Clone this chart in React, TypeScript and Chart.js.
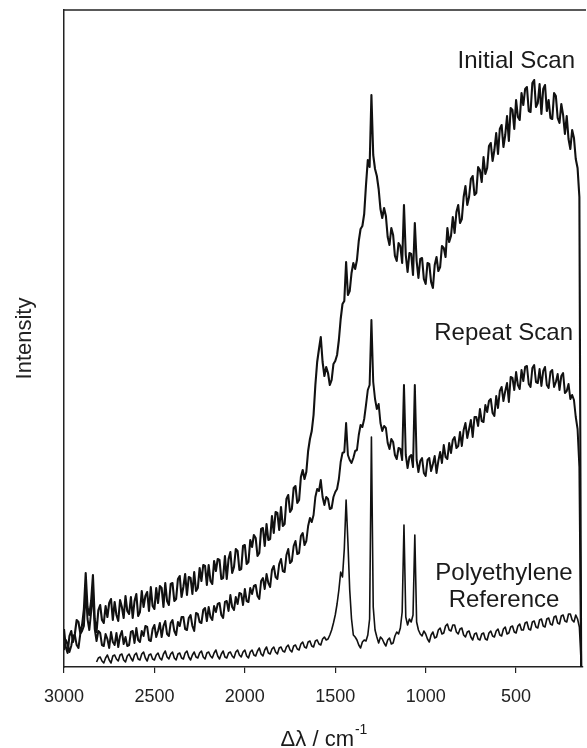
import React, { useEffect, useRef } from 'react';
import { Chart, registerables } from 'chart.js';

Chart.register(...registerables);

const FONT = '"Liberation Sans", Arial, Helvetica, sans-serif';

// Raman shift grid (cm^-1), 10 cm^-1 sampling
const wavenumbers = [
  3000, 2990, 2980, 2970, 2960, 2950, 2940, 2930, 2920, 2910, 2900, 2890, 2880, 2870, 2860, 2850, 2840, 2830, 2820, 2810,
  2800, 2790, 2780, 2770, 2760, 2750, 2740, 2730, 2720, 2710, 2700, 2690, 2680, 2670, 2660, 2650, 2640, 2630, 2620, 2610,
  2600, 2590, 2580, 2570, 2560, 2550, 2540, 2530, 2520, 2510, 2500, 2490, 2480, 2470, 2460, 2450, 2440, 2430, 2420, 2410,
  2400, 2390, 2380, 2370, 2360, 2350, 2340, 2330, 2320, 2310, 2300, 2290, 2280, 2270, 2260, 2250, 2240, 2230, 2220, 2210,
  2200, 2190, 2180, 2170, 2160, 2150, 2140, 2130, 2120, 2110, 2100, 2090, 2080, 2070, 2060, 2050, 2040, 2030, 2020, 2010,
  2000, 1990, 1980, 1970, 1960, 1950, 1940, 1930, 1920, 1910, 1900, 1890, 1880, 1870, 1860, 1850, 1840, 1830, 1820, 1810,
  1800, 1790, 1780, 1770, 1760, 1750, 1740, 1730, 1720, 1710, 1700, 1690, 1680, 1670, 1660, 1650, 1640, 1630, 1620, 1610,
  1600, 1590, 1580, 1570, 1560, 1550, 1540, 1530, 1520, 1510, 1500, 1490, 1480, 1470, 1460, 1450, 1440, 1430, 1420, 1410,
  1400, 1390, 1380, 1370, 1360, 1350, 1340, 1330, 1320, 1310, 1300, 1290, 1280, 1270, 1260, 1250, 1240, 1230, 1220, 1210,
  1200, 1190, 1180, 1170, 1160, 1150, 1140, 1130, 1120, 1110, 1100, 1090, 1080, 1070, 1060, 1050, 1040, 1030, 1020, 1010,
  1000, 990, 980, 970, 960, 950, 940, 930, 920, 910, 900, 890, 880, 870, 860, 850, 840, 830, 820, 810,
  800, 790, 780, 770, 760, 750, 740, 730, 720, 710, 700, 690, 680, 670, 660, 650, 640, 630, 620, 610,
  600, 590, 580, 570, 560, 550, 540, 530, 520, 510, 500, 490, 480, 470, 460, 450, 440, 430, 420, 410,
  400, 390, 380, 370, 360, 350, 340, 330, 320, 310, 300, 290, 280, 270, 260, 250, 240, 230, 220, 210,
  200, 190, 180, 170, 160, 150, 140,
];

// Intensities (arbitrary units)
const initialScan = [
  38, 20, 14, 31, 36, 25, 33, 47, 45, 34, 42, 58, 94, 60, 52, 66, 92, 48, 35, 57,
  62, 47, 44, 61, 50, 64, 68, 47, 65, 52, 46, 67, 60, 49, 71, 56, 53, 70, 49, 66,
  73, 51, 55, 76, 60, 71, 75, 56, 80, 61, 58, 79, 64, 81, 79, 60, 84, 66, 62, 83,
  84, 66, 68, 88, 91, 70, 80, 93, 72, 90, 89, 73, 95, 76, 79, 99, 86, 102, 101, 82,
  102, 86, 83, 106, 96, 108, 107, 88, 89, 111, 88, 108, 115, 94, 100, 118, 116, 97, 98, 121,
  122, 103, 105, 127, 120, 132, 129, 111, 114, 138, 139, 121, 143, 127, 128, 151, 134, 155, 154, 137,
  160, 141, 143, 168, 172, 155, 158, 179, 181, 164, 167, 190, 197, 188, 195, 216, 228, 236, 252, 282,
  305, 318, 330, 305, 291, 300, 294, 282, 287, 303, 306, 312, 327, 348, 363, 366, 405, 372, 376, 394,
  404, 398, 407, 426, 438, 441, 453, 482, 507, 500, 572, 512, 498, 491, 478, 458, 449, 459, 451, 430,
  422, 439, 432, 411, 406, 424, 421, 404, 462, 412, 395, 414, 413, 392, 444, 406, 389, 408, 409, 388,
  383, 404, 403, 385, 379, 402, 410, 396, 400, 421, 419, 410, 439, 425, 431, 450, 434, 455, 462, 444,
  448, 470, 481, 462, 470, 488, 491, 472, 474, 500, 497, 485, 510, 493, 499, 521, 524, 506, 517, 534,
  513, 538, 542, 520, 532, 551, 526, 559, 557, 538, 567, 550, 547, 574, 562, 578, 580, 556, 555, 584,
  587, 560, 564, 583, 553, 578, 582, 556, 567, 549, 548, 574, 571, 549, 544, 563, 552, 533, 551, 528,
  518, 537, 529, 508, 499, 470, 0,
];

const repeatScan = [
  17, 27, 23, 15, 21, 31, 32, 22, 19, 33, 36, 41, 77, 48, 37, 55, 75, 38, 26, 36,
  34, 22, 21, 33, 28, 19, 35, 25, 22, 34, 20, 31, 36, 23, 30, 21, 22, 35, 36, 24,
  39, 27, 25, 36, 31, 41, 40, 27, 26, 38, 42, 30, 36, 44, 30, 41, 46, 33, 31, 44,
  47, 36, 32, 45, 41, 50, 50, 38, 37, 49, 52, 41, 36, 54, 53, 45, 44, 57, 59, 46,
  60, 50, 47, 61, 55, 63, 64, 52, 49, 65, 66, 56, 72, 60, 57, 70, 63, 74, 73, 62,
  78, 66, 65, 79, 73, 81, 82, 71, 68, 86, 89, 78, 93, 84, 80, 97, 101, 90, 88, 103,
  108, 96, 95, 112, 118, 104, 106, 121, 126, 113, 114, 131, 134, 122, 126, 141, 149, 145, 152, 170,
  178, 176, 187, 170, 162, 170, 168, 158, 159, 170, 175, 178, 188, 205, 214, 215, 244, 212, 207, 204,
  209, 216, 217, 232, 242, 240, 248, 262, 277, 282, 347, 285, 268, 258, 263, 244, 236, 241, 239, 224,
  218, 228, 225, 212, 208, 219, 218, 207, 282, 212, 199, 210, 212, 200, 282, 207, 195, 206, 209, 194,
  191, 207, 209, 196, 203, 211, 194, 206, 215, 204, 222, 210, 208, 224, 214, 227, 230, 219, 221, 235,
  221, 237, 244, 229, 238, 247, 230, 250, 250, 241, 258, 246, 245, 262, 255, 266, 268, 254, 251, 271,
  259, 276, 280, 266, 276, 284, 265, 290, 289, 277, 295, 282, 278, 297, 286, 300, 301, 283, 280, 299,
  302, 285, 284, 298, 281, 296, 300, 282, 279, 295, 297, 280, 285, 293, 277, 291, 294, 274, 276, 283,
  268, 272, 267, 250, 238, 200, 0,
];

const polyethyleneReference = [
  null, null, null, null, null, null, null, null, null, null, null, null, null, null, null, null, null, null, 5, 9,
  10, 6, 4, 9, 12, 7, 4, 11, 12, 8, 6, 12, 13, 7, 5, 11, 13, 9, 6, 12,
  14, 8, 7, 13, 15, 9, 6, 12, 13, 8, 7, 12, 14, 9, 7, 13, 16, 10, 8, 13,
  15, 9, 7, 13, 14, 9, 8, 14, 16, 10, 7, 12, 15, 10, 9, 14, 16, 10, 8, 14,
  15, 11, 9, 14, 17, 11, 8, 13, 16, 10, 9, 14, 15, 11, 9, 15, 17, 12, 10, 15,
  17, 11, 9, 15, 17, 12, 11, 16, 19, 13, 11, 17, 20, 14, 13, 18, 20, 15, 13, 19,
  20, 16, 15, 20, 22, 17, 15, 21, 22, 18, 17, 23, 25, 20, 19, 25, 26, 21, 20, 26,
  27, 23, 22, 28, 30, 27, 28, 32, 37, 44, 52, 63, 77, 95, 90, 118, 167, 125, 77, 48,
  32, 30, 27, 22, 19, 25, 27, 26, 32, 48, 230, 60, 37, 30, 24, 30, 28, 24, 21, 27,
  29, 23, 24, 31, 35, 33, 39, 55, 142, 50, 42, 48, 45, 52, 132, 45, 37, 33, 31, 36,
  33, 28, 25, 32, 35, 29, 30, 37, 39, 33, 34, 41, 43, 37, 36, 42, 42, 35, 33, 38,
  39, 32, 30, 35, 36, 30, 27, 33, 34, 28, 27, 33, 34, 28, 27, 34, 36, 31, 30, 36,
  38, 32, 31, 38, 40, 33, 34, 40, 41, 35, 34, 41, 43, 37, 37, 44, 45, 38, 37, 45,
  46, 40, 39, 47, 48, 41, 40, 48, 49, 43, 42, 50, 51, 44, 43, 51, 52, 46, 45, 53,
  53, 47, 45, 52, 48, 40, 3,
];

const xTickValues = [3000, 2500, 2000, 1500, 1000, 500];
const seriesLabels = ['Initial Scan', 'Repeat Scan', 'Polyethylene', 'Reference'];
const xTitleMain = 'Δλ / cm';
const xTitleSup = '-1';
const yTitle = 'Intensity';

const decorPlugin = {
  id: 'decor',
  afterDraw(chart: any) {
    const { ctx, chartArea } = chart;
    const { left, right, top, bottom } = chartArea;
    ctx.save();
    // top frame line
    ctx.strokeStyle = '#222';
    ctx.lineWidth = 1.5;
    ctx.beginPath();
    ctx.moveTo(left - 0.75, top);
    ctx.lineTo(right + 3, top);
    ctx.stroke();

    // series labels
    ctx.fillStyle = '#1a1a1a';
    ctx.font = `24px ${FONT}`;
    ctx.textBaseline = 'alphabetic';
    ctx.textAlign = 'right';
    ctx.fillText(seriesLabels[0], right - 8, top + 58);
    ctx.fillText(seriesLabels[1], right - 10, top + 330);
    ctx.textAlign = 'center';
    ctx.fillText(seriesLabels[2], right - 79, top + 570);
    ctx.fillText(seriesLabels[3], right - 79, top + 597);

    // x axis title with superscript
    const cx = (left + right) / 2;
    ctx.font = `22px ${FONT}`;
    const w1 = ctx.measureText(xTitleMain).width;
    ctx.font = `14px ${FONT}`;
    const w2 = ctx.measureText(xTitleSup).width;
    const x0 = cx - (w1 + w2) / 2;
    ctx.textAlign = 'left';
    ctx.font = `22px ${FONT}`;
    ctx.fillText(xTitleMain, x0, bottom + 79);
    ctx.font = `14px ${FONT}`;
    ctx.fillText(xTitleSup, x0 + w1 + 1, bottom + 67);
    ctx.restore();
  },
};

export default function App() {
  const canvasRef = useRef<HTMLCanvasElement>(null);

  useEffect(() => {
    const canvas = canvasRef.current;
    if (!canvas) return;
    const toPoints = (vals: (number | null)[]) =>
      wavenumbers.map((w, i) => ({ x: w, y: vals[i] }));
    const lineStyle = {
      borderColor: '#111',
      pointRadius: 0,
      tension: 0,
      fill: false,
      spanGaps: false,
      borderJoinStyle: 'round',
    };
    const chart = new Chart(canvas, {
      type: 'line',
      data: {
        datasets: [
          { label: 'Initial Scan', data: toPoints(initialScan), borderWidth: 2.1, ...lineStyle },
          { label: 'Repeat Scan', data: toPoints(repeatScan), borderWidth: 2.0, ...lineStyle },
          { label: 'Polyethylene Reference', data: toPoints(polyethyleneReference), borderWidth: 1.6, ...lineStyle },
        ],
      },
      options: {
        animation: false,
        responsive: true,
        maintainAspectRatio: false,
        layout: { padding: { top: 10, right: 4, left: 0, bottom: 0 } },
        plugins: { legend: { display: false }, tooltip: { enabled: false } },
        scales: {
          x: {
            type: 'linear',
            reverse: true,
            min: 130,
            max: 3000,
            afterBuildTicks: (s: any) => {
              s.ticks = xTickValues.map((v) => ({ value: v }));
            },
            afterFit: (s: any) => {
              s.height = 81;
            },
            ticks: {
              font: { family: FONT, size: 18 },
              color: '#222',
              padding: 13,
              maxRotation: 0,
              autoSkip: false,
              callback: (v: any) => String(v),
            },
            grid: {
              display: true,
              drawOnChartArea: false,
              drawTicks: true,
              tickLength: 6,
              color: '#222',
              lineWidth: 1.2,
            },
            border: { display: true, color: '#222', width: 1.5 },
          },
          y: {
            min: 0,
            max: 657,
            ticks: { display: false },
            grid: { display: false, drawTicks: false },
            border: { display: true, color: '#222', width: 1.5 },
            title: {
              display: true,
              text: yTitle,
              font: { family: FONT, size: 22 },
              color: '#222',
              padding: { top: 12, bottom: 0 },
            },
            afterFit: (s: any) => {
              s.width = 64;
            },
          },
        },
      } as any,
      plugins: [decorPlugin],
    });
    return () => chart.destroy();
  }, []);

  return (
    <div style={{ position: 'fixed', left: 0, top: 0, width: 587, height: 748, background: '#fff' }}>
      <canvas ref={canvasRef} />
    </div>
  );
}
